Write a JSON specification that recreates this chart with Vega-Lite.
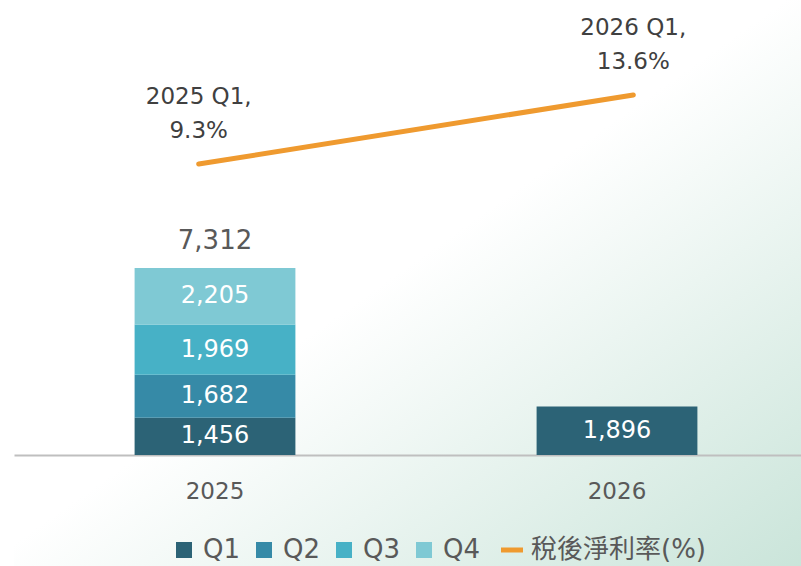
{
  "$schema": "https://vega.github.io/schema/vega-lite/v6.json",
  "width": 804,
  "height": 566,
  "autosize": {"type": "none"},
  "padding": {"left": 14, "top": 0, "right": 0, "bottom": 0},
  "background": "#ffffff",
  "config": {
    "font": "DejaVu Sans, Noto Sans CJK TC",
    "view": {
      "stroke": null,
      "fill": {
        "gradient": "linear",
        "x1": 0, "y1": 0, "x2": 1, "y2": 1,
        "stops": [
          {"offset": 0, "color": "#ffffff"},
          {"offset": 0.48, "color": "#ffffff"},
          {"offset": 1, "color": "#c9e4d9"}
        ]
      }
    }
  },
  "datasets": {
    "bars": [
      {"year": "2025", "quarter": "Q1", "value": 1456},
      {"year": "2025", "quarter": "Q2", "value": 1682},
      {"year": "2025", "quarter": "Q3", "value": 1969},
      {"year": "2025", "quarter": "Q4", "value": 2205},
      {"year": "2026", "quarter": "Q1", "value": 1896}
    ],
    "rate": [
      {"year": "2025", "rate": 9.3, "label": "2025 Q1,\n9.3%"},
      {"year": "2026", "rate": 13.6, "label": "2026 Q1,\n13.6%"}
    ]
  },
  "layer": [
    {
      "data": {"name": "bars"},
      "encoding": {
        "x": {
          "field": "year", "type": "nominal",
          "scale": {"paddingInner": 0.6, "paddingOuter": 0.3},
          "axis": {
            "title": null, "labelAngle": 0, "offset": -111,
            "ticks": false, "domainColor": "#bfbfbf", "domainWidth": 2,
            "labelFontSize": 23, "labelColor": "#595959", "labelPadding": 25
          }
        }
      },
      "layer": [
        {
          "mark": {"type": "bar"},
          "encoding": {
            "y": {
              "field": "value", "type": "quantitative", "aggregate": "sum",
              "scale": {"domain": [-4340, 17791], "nice": false, "zero": false},
              "axis": null
            },
            "color": {
              "field": "quarter", "type": "nominal",
              "scale": {
                "domain": ["Q1", "Q2", "Q3", "Q4", "稅後淨利率(%)"],
                "range": ["#2c6376", "#368aa7", "#47b1c6", "#7fc9d4", "#ef9a2f"]
              },
              "legend": {
                "title": null, "orient": "none", "direction": "horizontal",
                "legendX": 157, "legendY": 537,
                "labelFontSize": 26, "labelColor": "#595959", "labelLimit": 400,
                "symbolSize": 256, "symbolType": "square",
                "labelOffset": 6, "columnPadding": 10,
                "encode": {
                  "symbols": {
                    "update": {
                      "shape": {"signal": "datum.value == '稅後淨利率(%)' ? 'stroke' : 'square'"},
                      "size": {"signal": "datum.value == '稅後淨利率(%)' ? 484 : 256"},
                      "strokeWidth": {"signal": "datum.value == '稅後淨利率(%)' ? 5 : 0"},
                      "stroke": {"signal": "scale('color', datum.value)"},
                      "fill": {"signal": "scale('color', datum.value)"},
                      "opacity": {"value": 1}
                    }
                  }
                }
              }
            },
            "order": {"field": "quarter"}
          }
        },
        {
          "transform": [
            {"stack": "value", "groupby": ["year"], "sort": [{"field": "quarter"}], "as": ["v0", "v1"]},
            {"fold": ["v0", "v1"], "as": ["k", "pos"]}
          ],
          "mark": {"type": "text", "color": "#ffffff", "fontSize": 24, "baseline": "middle"},
          "encoding": {
            "y": {"field": "pos", "type": "quantitative", "aggregate": "mean"},
            "detail": {"field": "quarter"},
            "text": {"field": "value", "aggregate": "max", "format": ","}
          }
        },
        {
          "transform": [{"filter": "datum.year == '2025'"}],
          "mark": {"type": "text", "color": "#595959", "fontSize": 26, "baseline": "middle", "dy": -27},
          "encoding": {
            "y": {"field": "value", "type": "quantitative", "aggregate": "sum"},
            "text": {"field": "value", "aggregate": "sum", "format": ","}
          }
        }
      ]
    },
    {
      "data": {"name": "rate"},
      "encoding": {
        "x": {
          "field": "year", "type": "ordinal",
          "scale": {"type": "point", "padding": 0.425},
          "axis": null
        },
        "y": {
          "field": "rate", "type": "quantitative",
          "scale": {"domain": [-15.75, 19.52], "nice": false, "zero": false},
          "axis": null
        }
      },
      "layer": [
        {
          "mark": {"type": "line", "strokeWidth": 5, "strokeCap": "round"},
          "encoding": {"color": {"datum": "稅後淨利率(%)"}}
        },
        {
          "mark": {"type": "text", "color": "#404040", "fontSize": 23, "lineBreak": "\n", "lineHeight": 34, "baseline": "middle", "dy": -67},
          "encoding": {"text": {"field": "label"}}
        }
      ]
    }
  ],
  "resolve": {"scale": {"x": "independent", "y": "independent"}}
}
